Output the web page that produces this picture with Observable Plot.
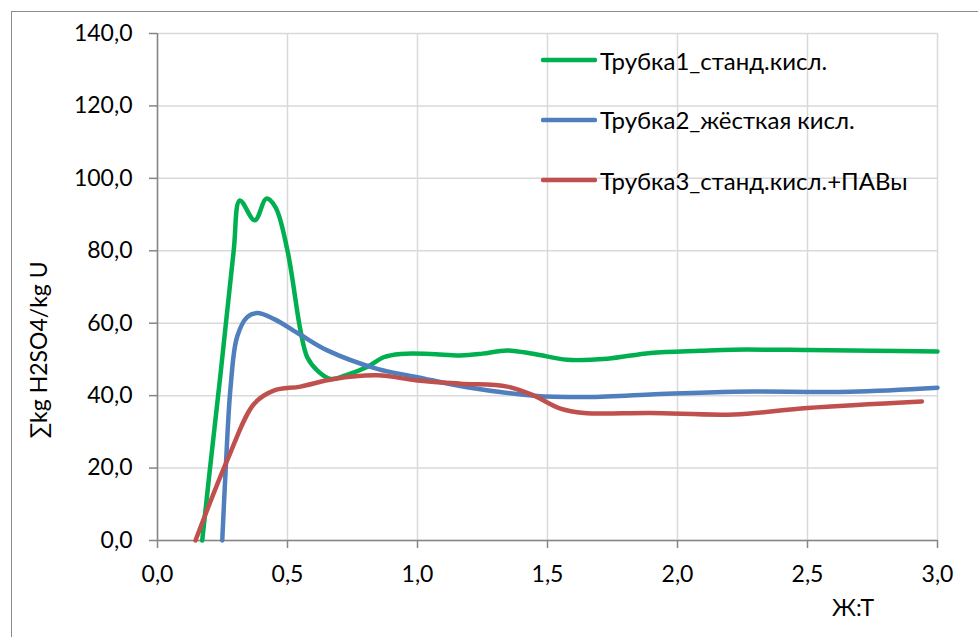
<!DOCTYPE html>
<html>
<head>
<meta charset="utf-8">
<script src="https://cdn.jsdelivr.net/npm/d3@7"></script>
<script src="https://cdn.jsdelivr.net/npm/@observablehq/plot@0.6"></script>
<style>
  html, body { margin: 0; padding: 0; background: #fff; overflow: hidden; }
  #wrap { position: relative; width: 978px; height: 637px; font-family: Lato, sans-serif; color: #000; }
  #frame { position: absolute; left: 11px; top: 11px; width: 1200px; height: 1200px; border-left: 1.5px solid #8c8c8c; border-top: 1.5px solid #8c8c8c; }
  #chart { position: absolute; left: 0; top: 0; }
  .lbl { position: absolute; font-size: 23px; white-space: nowrap; }
  #ylabel { left: 38px; top: 350px; transform: translate(-50%, -50%) rotate(-90deg); }
  #xlabel { left: 853px; top: 607px; transform: translate(-50%, -50%); }
  #legend { position: absolute; left: 541px; top: 30px; }
  .row { position: absolute; left: 0; height: 30px; display: flex; align-items: center; font-size: 24px; white-space: nowrap; }
  .row svg { margin-right: 3px; }
</style>
</head>
<body>
<div id="wrap">
  <div id="frame"></div>
  <div id="chart"></div>
  <div class="lbl" id="ylabel">∑kg H2SO4/kg U</div>
  <div class="lbl" id="xlabel">Ж:Т</div>
  <div id="legend"></div>
</div>
<script>
// Series names and colours
const seriesNames = ["Трубка1_станд.кисл.", "Трубка2_жёсткая кисл.", "Трубка3_станд.кисл.+ПАВы"];
const seriesColors = ["#00B050", "#4F7FBD", "#C0504D"];

// Axis ticks
const xTicks = [0, 0.5, 1.0, 1.5, 2.0, 2.5, 3.0];
const yTicks = [0, 20, 40, 60, 80, 100, 120, 140];

// Series 1 (green)
const x1 = [0.172, 0.201, 0.244, 0.293, 0.317, 0.374, 0.419, 0.454, 0.50, 0.55, 0.576, 0.614, 0.665, 0.723, 0.806, 0.87, 0.935, 1.05, 1.165, 1.25, 1.345, 1.45, 1.576, 1.73, 1.896, 2.088, 2.215, 2.5, 2.75, 3.0];
const y1 = [0, 19.3, 47.0, 80.0, 93.9, 88.4, 94.4, 92.0, 80.0, 58.0, 50.6, 47.0, 44.6, 45.6, 47.9, 50.6, 51.5, 51.5, 51.1, 51.6, 52.5, 51.5, 49.9, 50.2, 51.8, 52.4, 52.7, 52.6, 52.4, 52.2];

// Series 2 (blue)
const x2 = [0.249, 0.262, 0.281, 0.306, 0.345, 0.383, 0.447, 0.55, 0.653, 0.845, 0.999, 1.191, 1.448, 1.64, 1.896, 2.217, 2.665, 3.0];
const y2 = [0, 19.3, 42.3, 56.2, 61.7, 62.8, 61.2, 56.8, 52.5, 47.4, 45.1, 42.3, 40.0, 39.6, 40.3, 41.1, 41.1, 42.2];

// Series 3 (red)
const x3 = [0.146, 0.268, 0.371, 0.447, 0.55, 0.678, 0.845, 0.999, 1.165, 1.345, 1.448, 1.55, 1.64, 1.896, 2.217, 2.499, 2.94];
const y3 = [0, 22.1, 37.7, 41.4, 42.5, 44.6, 45.6, 44.2, 43.3, 42.5, 40.0, 36.4, 35.2, 35.2, 34.8, 36.6, 38.4];

const xs = [x1, x2, x3], ys = [y1, y2, y3];
const data = xs.flatMap((xa, i) => xa.map((x, j) => ({series: seriesNames[i], x, y: ys[i][j]})));

const fmt = d => d.toFixed(1).replace(".", ",");

const chart = Plot.plot({
  width: 978,
  height: 637,
  marginLeft: 157,
  marginRight: 41,
  marginTop: 33,
  marginBottom: 97,
  style: { fontFamily: "Lato, sans-serif", fontSize: "23px", background: "transparent", color: "#000" },
  x: { domain: [0, 3], ticks: xTicks },
  y: { domain: [0, 140], ticks: yTicks },
  color: { domain: seriesNames, range: seriesColors },
  marks: [
    Plot.gridX(xTicks, { stroke: "#d9d9d9", strokeOpacity: 1, strokeWidth: 1.5 }),
    Plot.gridY(yTicks, { stroke: "#d9d9d9", strokeOpacity: 1, strokeWidth: 1.5 }),
    Plot.ruleX([0], { stroke: "#868686", strokeWidth: 1.5 }),
    Plot.ruleY([0], { stroke: "#868686", strokeWidth: 1.5 }),
    Plot.axisX(xTicks, { tickSize: 8, tickPadding: 17, tickFormat: fmt, stroke: "#868686", strokeWidth: 1.5, fill: "#000", label: null }),
    Plot.axisY(yTicks, { tickSize: 8, tickPadding: 17, tickFormat: fmt, stroke: "#868686", strokeWidth: 1.5, fill: "#000", label: null }),
    Plot.line(data, { x: "x", y: "y", z: "series", stroke: "series", strokeWidth: 4.5, curve: "catmull-rom", strokeLinecap: "round", strokeLinejoin: "round" })
  ]
});
document.getElementById("chart").appendChild(chart);

// Legend
const legend = document.getElementById("legend");
const rowCenters = [30, 89.5, 150];
seriesNames.forEach((name, i) => {
  const row = document.createElement("div");
  row.className = "row";
  row.style.top = (rowCenters[i] - 15) + "px";
  row.innerHTML = `<svg width="56" height="10"><line x1="2" y1="5" x2="54" y2="5" stroke="${seriesColors[i]}" stroke-width="4.5" stroke-linecap="round"/></svg><span>${name}</span>`;
  legend.appendChild(row);
});
</script>
</body>
</html>
